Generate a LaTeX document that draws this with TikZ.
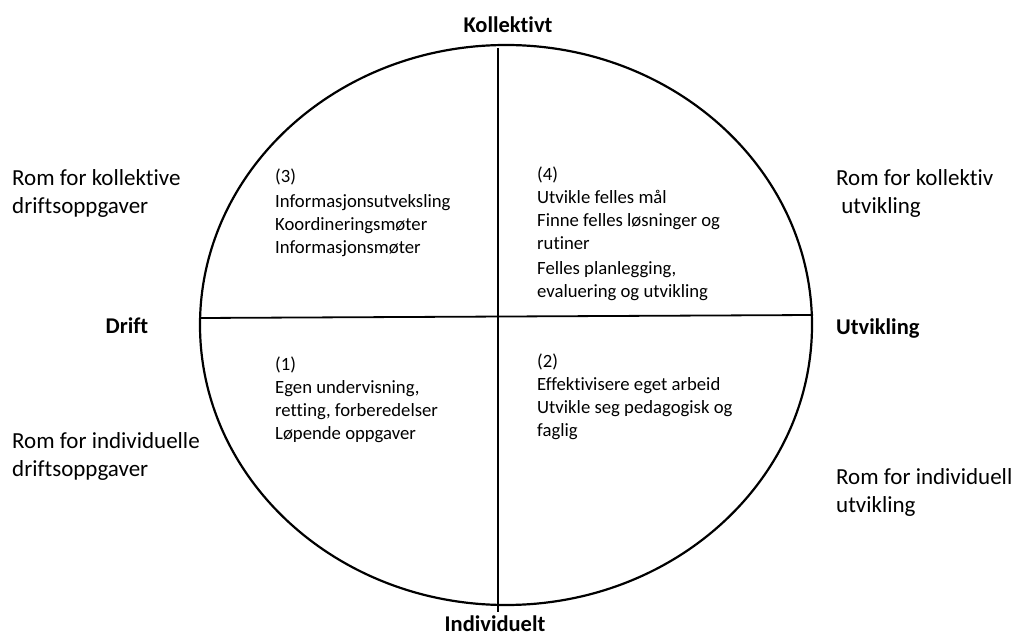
\documentclass[tikz,border=0pt]{standalone}
\usepackage{fontspec}
\setmainfont{Carlito}[Ligatures={NoCommon}]
\begin{document}
\begin{tikzpicture}[x=1pt,y=-1pt,
    axislabel/.style={anchor=base,inner sep=0pt,font=\bfseries\fontsize{22.5}{26}\selectfont},
    roomtext/.style={anchor=north west,align=left,inner sep=0pt,font=\fontsize{23}{28}\selectfont},
    quadtext/.style={anchor=north west,align=left,inner sep=0pt,font=\fontsize{18.7}{23}\selectfont}]
  \useasboundingbox (0,0) rectangle (1015,636);
  % the circle and its two axes
  \draw[line width=2.2pt] (506,325) ellipse (306 and 280);
  \coordinate (west) at (200,318);
  \coordinate (east) at (813,315);
  \coordinate (north) at (498,48);
  \coordinate (south) at (498,612);
  \draw[line width=1.8pt] (west) -- (east);
  \draw[line width=1.8pt] (north) -- (south);
  % axis labels
  \node[axislabel] (kollektivt) at (508,33) {Kollektivt};
  \node[axislabel] (individuelt) at (495,631) {Individuelt};
  \node[axislabel] (drift) at (127,334) {Drift};
  \node[axislabel,anchor=base west] (utvikling) at (836,335) {Utvikling};
  % text outside the circle
  \node[roomtext] (romKD) at (12,169) {Rom for kollektive\\driftsoppgaver};
  \node[roomtext] (romID) at (12,432) {Rom for individuelle\\driftsoppgaver};
  \node[roomtext] (romKU) at (836,169) {Rom for kollektiv\\\ utvikling};
  \node[roomtext] (romIU) at (836,468) {Rom for individuell\\utvikling};
  % text in the quadrants
  \node[quadtext] (q3) at (275,169) {(3)\\[2pt]Informasjonsutveksling\\Koordineringsmøter\\Informasjonsmøter};
  \node[quadtext] (q4) at (537,167) {(4)\\Utvikle felles mål\\Finne felles løsninger og\\rutiner\\[2pt]Felles planlegging,\\evaluering og utvikling};
  \node[quadtext] (q1) at (275,357) {(1)\\Egen undervisning,\\retting, forberedelser\\Løpende oppgaver};
  \node[quadtext] (q2) at (537,354) {(2)\\Effektivisere eget arbeid\\Utvikle seg pedagogisk og\\faglig};
\end{tikzpicture}
\end{document}
